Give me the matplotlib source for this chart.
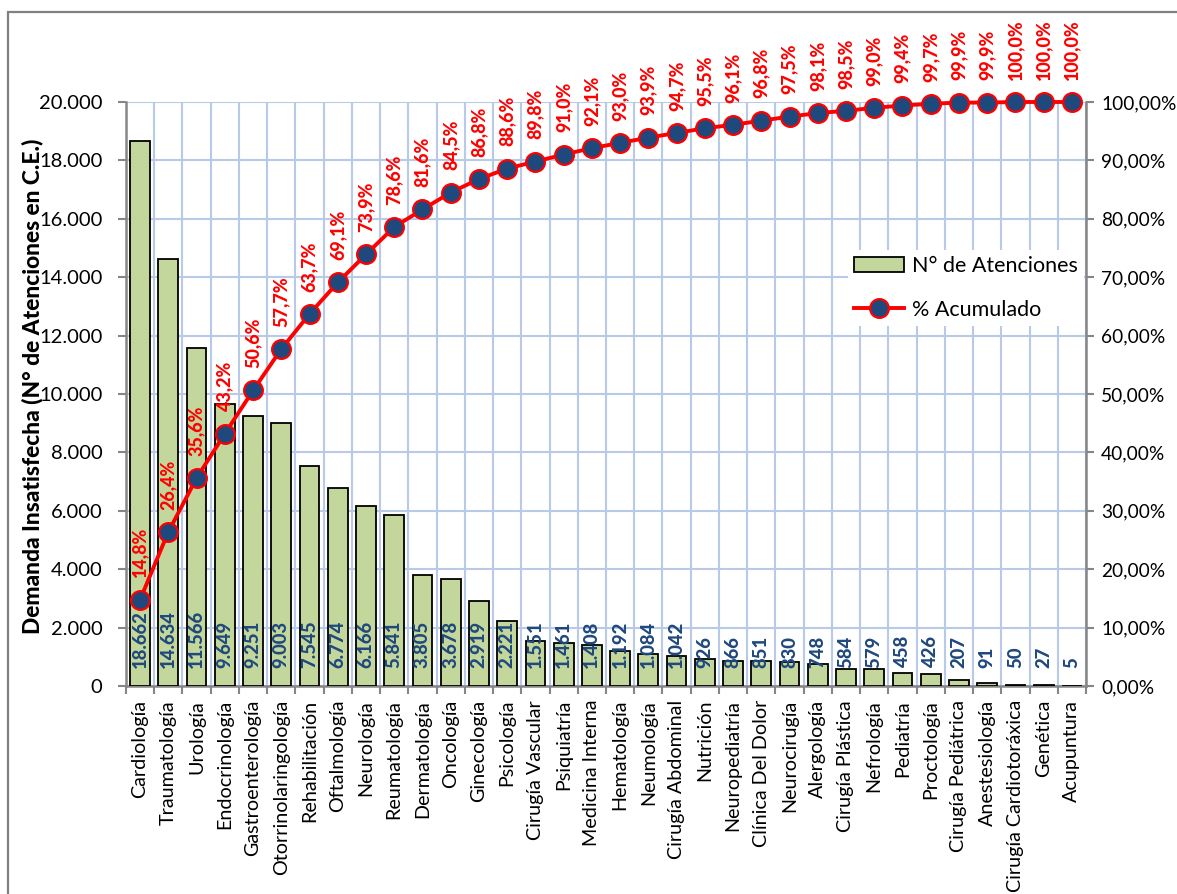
import numpy as np
import matplotlib
matplotlib.use('Agg')
import matplotlib.pyplot as plt
from matplotlib.patches import Rectangle
from matplotlib.ticker import FuncFormatter, MultipleLocator

plt.rcParams['font.family'] = ['Lato', 'DejaVu Sans']

# Specialties sorted by unmet demand
especialidades = ['Cardiología', 'Traumatología', 'Urología', 'Endocrinología',
                  'Gastroenterología', 'Otorrinolaringología', 'Rehabilitación',
                  'Oftalmología', 'Neurología', 'Reumatología', 'Dermatología',
                  'Oncología', 'Ginecología', 'Psicología', 'Cirugía Vascular',
                  'Psiquiatría', 'Medicina Interna', 'Hematología', 'Neumología',
                  'Cirugía Abdominal', 'Nutrición', 'Neuropediatría',
                  'Clínica Del Dolor', 'Neurocirugía', 'Alergología',
                  'Cirugía Plástica', 'Nefrología', 'Pediatría', 'Proctología',
                  'Cirugía Pediátrica', 'Anestesiología', 'Cirugía Cardiotoráxica',
                  'Genética', 'Acupuntura']
atenciones = [18662, 14634, 11566, 9649, 9251, 9003, 7545, 6774, 6166, 5841,
              3805, 3678, 2919, 2221, 1551, 1461, 1408, 1192, 1084, 1042,
              926, 866, 851, 830, 748, 584, 579, 458, 426, 207, 91, 50, 27, 5]
pct_acumulado = [14.8, 26.4, 35.6, 43.2, 50.6, 57.7, 63.7, 69.1, 73.9, 78.6,
                 81.6, 84.5, 86.8, 88.6, 89.8, 91.0, 92.1, 93.0, 93.9, 94.7,
                 95.5, 96.1, 96.8, 97.5, 98.1, 98.5, 99.0, 99.4, 99.7, 99.9,
                 99.9, 100.0, 100.0, 100.0]

W, H = 1177, 894
fig = plt.figure(figsize=(W / 100, H / 100), dpi=100)
ax = fig.add_axes([126 / W, 1 - 686 / H, 960 / W, 584 / H])
ax2 = ax.twinx()

grid_col = '#b8cae8'
axis_col = '#868686'
x = np.arange(len(especialidades))

# bars
bars = ax.bar(x, atenciones, width=0.7, color='#c3d69b', edgecolor='black',
              linewidth=1.3, zorder=3, label='N° de Atenciones')
for i, v in enumerate(atenciones):
    ax.annotate(f'{v:,}'.replace(',', '.'), xy=(i, 0), xytext=(0, 13),
                textcoords='offset points', rotation=90, ha='center', va='bottom',
                color='#1f497d', fontsize=13.3, fontweight='black', zorder=4)

ax.set_xlim(-0.5, len(especialidades) - 0.5)
ax.set_ylim(0, 20000)
ax.yaxis.set_major_locator(MultipleLocator(2000))
ax.yaxis.set_major_formatter(FuncFormatter(lambda v, p: f'{int(v):,}'.replace(',', '.')))
ax.set_xticks(x)
ax.set_xticklabels(especialidades, rotation=90, fontsize=14.2)
ax.set_xticks(np.arange(-0.5, len(especialidades)), minor=True)
ax.tick_params(axis='x', which='major', length=0, pad=10)
ax.tick_params(axis='x', which='minor', length=6, width=1.5, color=axis_col)
ax.tick_params(axis='y', length=6, width=1.5, color=axis_col, labelsize=14.5, pad=11)
ax.grid(True, which='minor', axis='x', color=grid_col, linewidth=1.5, zorder=0)
ax.grid(True, which='major', axis='y', color=grid_col, linewidth=1.5, zorder=0)
ax.set_axisbelow(True)
for s in ['left', 'bottom']:
    ax.spines[s].set_color(axis_col)
    ax.spines[s].set_linewidth(1.8)
for s in ['top', 'right']:
    ax.spines[s].set_visible(False)

# cumulative line
line, = ax2.plot(x, pct_acumulado, color='red', linewidth=2.8, marker='o',
                 markersize=13.5, markerfacecolor='#1f497d', markeredgecolor='red',
                 markeredgewidth=1.6, zorder=5, clip_on=False, label='% Acumulado')
for i, p in enumerate(pct_acumulado):
    ax2.annotate(f'{p:.1f}%'.replace('.', ','), xy=(i, p), xytext=(0, 16),
                 textcoords='offset points', rotation=90, ha='center', va='bottom',
                 color='red', fontsize=13, fontweight='black', annotation_clip=False)
ax2.set_ylim(0, 100)
ax2.yaxis.set_major_locator(MultipleLocator(10))
ax2.yaxis.set_major_formatter(FuncFormatter(lambda v, p: f'{v:.2f}%'.replace('.', ',')))
ax2.tick_params(axis='y', length=6, width=1.5, color=axis_col, labelsize=13.8, pad=5)
for s in ['left', 'bottom', 'top']:
    ax2.spines[s].set_visible(False)
ax2.spines['right'].set_color(axis_col)
ax2.spines['right'].set_linewidth(1.8)

fig.text(32 / W, 1 - 386 / H, 'Demanda Insatisfecha (N° de Atenciones en C.E.)',
         rotation=90, ha='center', va='center', fontsize=16.4, fontweight='black')

leg = fig.legend([bars, line], ['N° de Atenciones', '% Acumulado'],
                 loc='upper left', bbox_to_anchor=(837 / W, 1 - 239 / H),
                 fontsize=15.5, frameon=True, fancybox=False, edgecolor='none',
                 framealpha=1, handlelength=2.3, handletextpad=0.37,
                 labelspacing=1.1, borderpad=0.3)

# outer chart border
fig.patches.append(Rectangle((8 / W, -0.05), 1.1, 1 - 12 / H + 0.05,
                             transform=fig.transFigure, fill=False,
                             edgecolor='#808080', linewidth=1.6))

fig.savefig('out.png', dpi=100)
